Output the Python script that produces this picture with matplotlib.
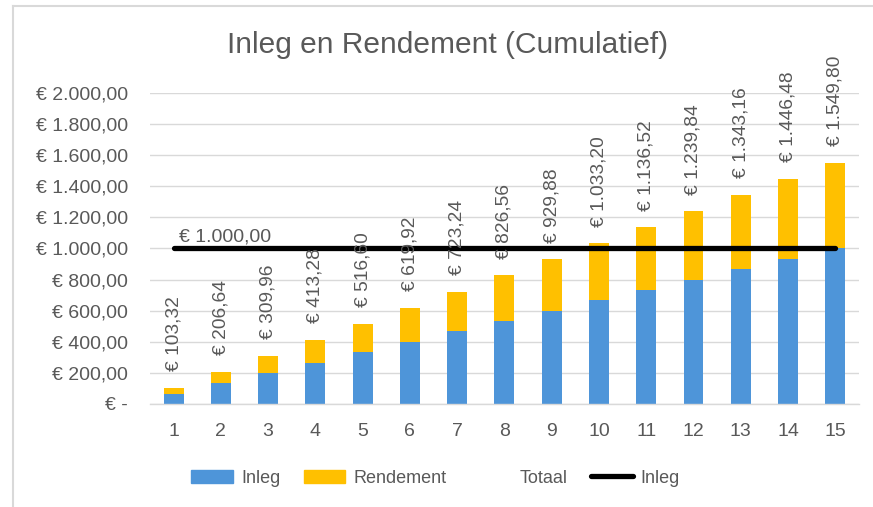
import numpy as np
import matplotlib.pyplot as plt
from matplotlib.lines import Line2D
from matplotlib.patches import Patch
from matplotlib.ticker import FuncFormatter

# ---------- data ----------
jaren = [1, 2, 3, 4, 5, 6, 7, 8, 9, 10, 11, 12, 13, 14, 15]
inleg = [66.67, 133.33, 200.00, 266.67, 333.33, 400.00, 466.67, 533.33,
         600.00, 666.67, 733.33, 800.00, 866.67, 933.33, 1000.00]
totaal = [103.32, 206.64, 309.96, 413.28, 516.60, 619.92, 723.24, 826.56,
          929.88, 1033.20, 1136.52, 1239.84, 1343.16, 1446.48, 1549.80]
inleg_lijn = 1000.00

rendement = np.array(totaal) - np.array(inleg)

BLUE = "#4E95D9"
YELLOW = "#FFC000"
GRID = "#D9D9D9"
TEXT = "#595959"


def euro(v):
    if v == 0:
        return "€ -"
    s = f"{v:,.2f}".replace(",", "X").replace(".", ",").replace("X", ".")
    return f"€ {s}"


plt.rcParams["font.family"] = ["Liberation Sans", "DejaVu Sans"]

fig = plt.figure(figsize=(8.73, 5.07), dpi=100)
ax = fig.add_axes([0.1718, 0.2032, 0.812, 0.6134])

ax.bar(jaren, inleg, width=0.42, color=BLUE, zorder=2)
ax.bar(jaren, rendement, width=0.42, bottom=inleg, color=YELLOW, zorder=2)

# total labels
for x, t in zip(jaren, totaal):
    ax.annotate(euro(t), (x, t), xytext=(0, 12), textcoords="offset points",
                rotation=90, ha="center", va="bottom", fontsize=13.8,
                color=TEXT, zorder=4)

# horizontal inleg line
ax.plot([jaren[0], jaren[-1]], [inleg_lijn, inleg_lijn], color="black",
        lw=3.8, solid_capstyle="round", zorder=3)
ax.annotate(euro(inleg_lijn), (jaren[0], inleg_lijn), xytext=(4, 2),
            textcoords="offset points", ha="left", va="bottom",
            fontsize=14, color=TEXT, zorder=4)

ax.set_xlim(0.5, 15.5)
ax.set_ylim(0, 2000)
ax.set_yticks(np.arange(0, 2001, 200))
ax.set_xticks(jaren)
ax.yaxis.set_major_formatter(FuncFormatter(lambda v, p: euro(v)))
ax.tick_params(length=0, labelsize=14, labelcolor=TEXT)
ax.tick_params(axis="y", pad=16)
ax.tick_params(axis="x", pad=14)
ax.grid(axis="y", color=GRID, lw=1.0, zorder=0)
ax.set_axisbelow(True)
for side in ["top", "right", "left"]:
    ax.spines[side].set_visible(False)
ax.spines["bottom"].set_color(GRID)
ax.spines["bottom"].set_linewidth(1.0)

fig.text(0.513, 0.911, "Inleg en Rendement (Cumulatief)", ha="center",
         va="center", fontsize=21.5, color=TEXT)

handles = [
    Patch(color=BLUE),
    Patch(color=YELLOW),
    Line2D([], [], color="none"),
    Line2D([], [], color="black", lw=3.8, solid_capstyle="round"),
]
labels = ["Inleg", "Rendement", "Totaal", "Inleg"]
fig.legend(handles, labels, loc="center", bbox_to_anchor=(0.499, 0.057),
           ncol=4, frameon=False, fontsize=13, labelcolor=TEXT,
           handlelength=2.3, handleheight=0.7, handletextpad=0.45,
           columnspacing=1.3)

# outer chart border
fig.add_artist(Line2D([13 / 873, 13 / 873], [0, 1 - 6 / 507],
                      color=GRID, lw=1.5, transform=fig.transFigure))
fig.add_artist(Line2D([13 / 873, 1], [1 - 6 / 507, 1 - 6 / 507],
                      color=GRID, lw=1.5, transform=fig.transFigure))

fig.savefig("out.png", dpi=100)
